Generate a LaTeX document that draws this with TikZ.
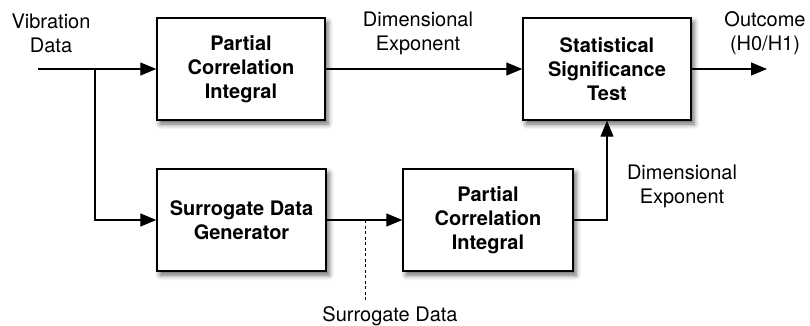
\documentclass[tikz,border=0pt]{standalone}
\usepackage{fontspec}
\setmainfont{TeX Gyre Heros}
\usetikzlibrary{arrows.meta,shadows.blur}

\tikzset{
  blockbox/.style={draw=black, line width=1.4pt, fill=white,
    minimum width=168pt, minimum height=102pt, align=center,
    font=\fontsize{20}{24}\selectfont\bfseries,
    blur shadow={shadow xshift=3pt, shadow yshift=-4pt, shadow blur radius=5pt, shadow opacity=60}},
  tag/.style={align=center, font=\fontsize{20}{24}\selectfont, inner sep=0pt},
  flow/.style={line width=1.2pt, -{Triangle[length=16pt,width=13pt]}},
  plain/.style={line width=1.2pt},
}

\begin{document}
\begin{tikzpicture}[x=1pt, y=-1pt]
  \useasboundingbox (0,0) rectangle (810,326);

  % processing blocks
  \node[blockbox] (pci1) at (241,69) {Partial\\Correlation\\Integral};
  \node[blockbox] (test) at (607,69) {Statistical\\Significance\\Test};
  \node[blockbox, minimum width=169pt] (surr) at (241.5,220) {Surrogate Data\\Generator};
  \node[blockbox, minimum width=170pt] (pci2) at (488,220) {Partial\\Correlation\\Integral};

  % free ends and junctions
  \coordinate (in) at (38,69);
  \coordinate (split) at (95,69);
  \coordinate (out) at (767,69);
  \coordinate (tap) at (365,220);
  \coordinate (tapend) at (365,302);

  % signal flow
  \draw[plain] (in) -- (split);
  \draw[flow] (split) -- (pci1.west);
  \draw[flow] (split) |- (surr.west);
  \draw[flow] (pci1.east) -- (test.west);
  \draw[flow] (test.east) -- (out);
  \draw[flow] (surr.east) -- (pci2.west);
  \draw[flow] (pci2.east) -| (test.south);
  \draw[line width=0.9pt, dash pattern=on 3pt off 2.5pt] (tap) -- (tapend);

  % labels
  \node[tag] (lvib) at (51,33) {Vibration\\Data};
  \node[tag] (ldim1) at (418,33) {Dimensional\\Exponent};
  \node[tag] (lout) at (765,33) {Outcome\\(H0/H1)};
  \node[tag] (ldim2) at (682,186) {Dimensional\\Exponent};
  \node[tag] (lsur) at (390,316) {Surrogate Data};
\end{tikzpicture}
\end{document}
